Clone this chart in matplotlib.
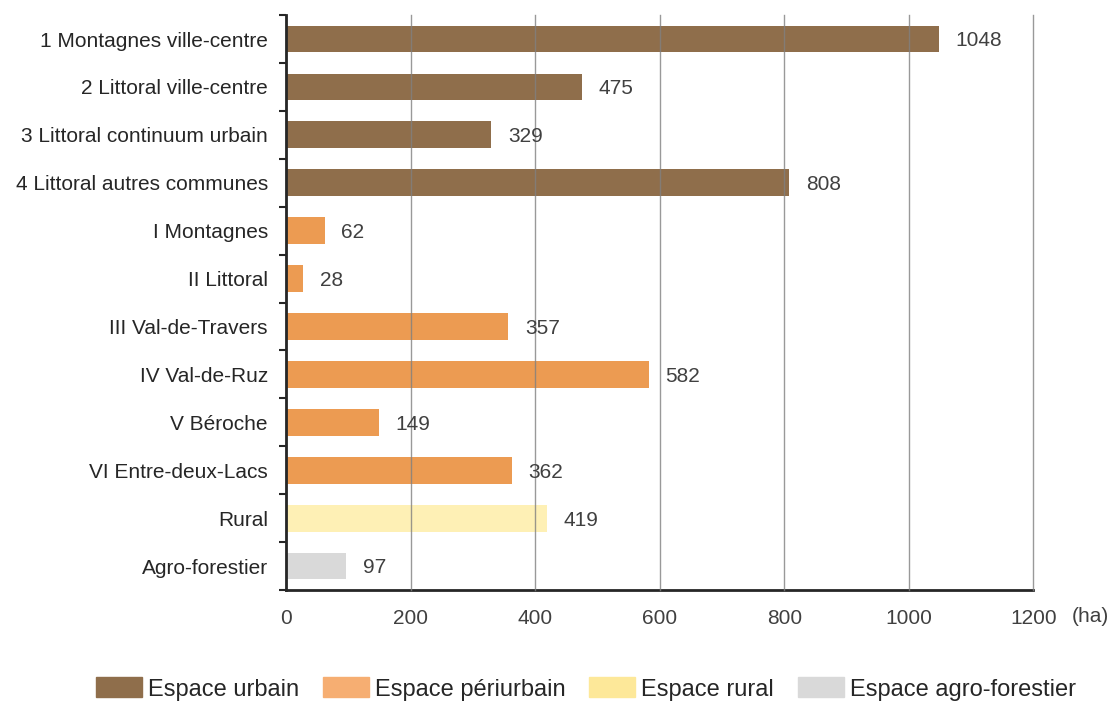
import matplotlib.pyplot as plt
from matplotlib.patches import Patch

plt.rcParams['font.family'] = ['Liberation Sans', 'DejaVu Sans']

labels = ["1 Montagnes ville-centre", "2 Littoral ville-centre", "3 Littoral continuum urbain",
          "4 Littoral autres communes", "I Montagnes", "II Littoral", "III Val-de-Travers",
          "IV Val-de-Ruz", "V Béroche", "VI Entre-deux-Lacs", "Rural", "Agro-forestier"]
values = [1048, 475, 329, 808, 62, 28, 357, 582, 149, 362, 419, 97]
groups = ["urbain"] * 4 + ["periurbain"] * 6 + ["rural", "agro"]

bar_colors = {"urbain": "#8F6E4B", "periurbain": "#EC9B52", "rural": "#FEF0B5", "agro": "#D9D9D9"}
legend_colors = {"urbain": "#8F6E4B", "periurbain": "#F6AE72", "rural": "#FDE899", "agro": "#D9D9D9"}
legend_names = {"urbain": "Espace urbain", "periurbain": "Espace périurbain",
                "rural": "Espace rural", "agro": "Espace agro-forestier"}
xticks = [0, 200, 400, 600, 800, 1000, 1200]

txt = "#404040"
fs = 15
fig = plt.figure(figsize=(11.13, 7.02), dpi=100)
ax = fig.add_axes([0.257, 0.1595, 0.6715, 0.819])

ypos = list(range(len(labels)))
ax.barh(ypos, values, height=0.56, color=[bar_colors[g] for g in groups], zorder=1)
for y, v in zip(ypos, values):
    ax.text(v + 27, y + 0.04, str(v), va="center", ha="left", fontsize=fs, color=txt)

ax.set_xlim(0, 1200)
ax.set_ylim(len(labels) - 0.5, -0.5)
ax.set_xticks(xticks)
ax.set_xticklabels([str(t) for t in xticks], fontsize=fs, color=txt)
ax.tick_params(axis="x", length=0, pad=14)
ax.set_yticks(ypos)
ax.set_yticklabels(labels, fontsize=fs, color="#262626")
ax.tick_params(axis="y", which="major", length=0, pad=13)
ax.set_yticks([i - 0.5 for i in range(len(labels) + 1)], minor=True)
ax.tick_params(axis="y", which="minor", length=5, width=1.5, color="#262626")

ax.grid(axis="x", color="#808080", alpha=0.8, linewidth=1, zorder=3)
for gl in ax.get_xgridlines():
    gl.set_clip_on(False)
ax.set_axisbelow(False)
for s in ["top", "right"]:
    ax.spines[s].set_visible(False)
ax.spines["left"].set_linewidth(2)
ax.spines["bottom"].set_linewidth(2)
ax.spines["left"].set_color("#262626")
ax.spines["bottom"].set_color("#262626")
ax.spines["left"].set_zorder(4)

fig.text(1090 / 1113, 1 - 617 / 702, "(ha)", fontsize=fs, color=txt, ha="center", va="center")

handles = [Patch(color=legend_colors[k]) for k in legend_colors]
fig.legend(handles, [legend_names[k] for k in legend_colors], loc="center",
           bbox_to_anchor=(586 / 1113, 1 - 689 / 702), ncol=4, frameon=False, fontsize=17,
           handlelength=1.95, handleheight=0.93, columnspacing=1.0, handletextpad=0.25,
           labelcolor="#262626")

fig.savefig("out.png", dpi=100)
